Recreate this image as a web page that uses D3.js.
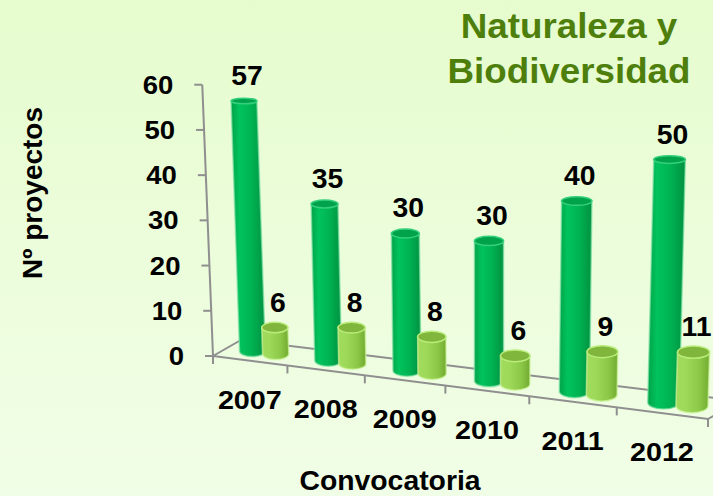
<!DOCTYPE html>
<html>
<head>
<meta charset="utf-8">
<script src="https://cdn.jsdelivr.net/npm/d3@7"></script>
<style>
  body { margin: 0; }
  svg { display: block; }
  text { font-family: "Liberation Sans", Arial, sans-serif; font-weight: bold; }
</style>
</head>
<body>
<div id="chart"></div>
<script>
// data
var years = ["2007", "2008", "2009", "2010", "2011", "2012"];
var serie1 = [57, 35, 30, 30, 40, 50];   // columnas verde oscuro
var serie2 = [6, 8, 8, 6, 9, 11];        // columnas verde claro
var yTicks = [0, 10, 20, 30, 40, 50, 60];
var titleLines = ["Naturaleza y", "Biodiversidad"];

var width = 713, height = 496;

var svg = d3.select("#chart")
  .append("svg")
    .attr("width", width)
    .attr("height", height);

var defs = svg.append("defs");

// background
var bg = defs.append("linearGradient").attr("id", "bg")
  .attr("x1", 0).attr("y1", 0).attr("x2", 0).attr("y2", 1);
bg.append("stop").attr("offset", "0%").attr("stop-color", "#e6fcce");
bg.append("stop").attr("offset", "100%").attr("stop-color", "#f1fee7");
svg.append("rect").attr("width", width).attr("height", height).attr("fill", "url(#bg)");

// cylinder gradients
function hGrad(id, stops){
  var g = defs.append("linearGradient").attr("id", id)
    .attr("x1", 0).attr("y1", 0).attr("x2", 1).attr("y2", 0);
  stops.forEach(function(s){
    g.append("stop").attr("offset", s[0]).attr("stop-color", s[1]);
  });
}
hGrad("g1", [["0%", "#00a247"], ["25%", "#00c35e"], ["60%", "#00b352"], ["100%", "#009140"]]);
hGrad("g2", [["0%", "#a3dc5c"], ["30%", "#9ed95a"], ["70%", "#8cc847"], ["100%", "#72ab30"]]);

var series = [
  {key: "s1", values: serie1, fill: "url(#g1)", top: "#00a34a", rim: "#35d07c", glow: "#7fe0a5"},
  {key: "s2", values: serie2, fill: "url(#g2)", top: "#80b63c", rim: "#b9ec7a", glow: "#cdf39c"}
];

// perspective of the 3D floor
var persp = 0.115;
var F0 = [213, 356], F1 = [708, 419];   // front edge of the floor
var B0 = [241, 340], B1 = [740, 401];   // back edge of the floor
var vanishX = 490, vanishDist = 7000;

var x = d3.scaleBand()
  .domain(years)
  .range([0, 1]);

var xSub = d3.scaleBand()
  .domain(series.map(function(s){ return s.key; }))
  .range([0, x.bandwidth()])
  .paddingOuter(0.61);

var y = d3.scaleLinear()
  .domain([0, 60])
  .range([0, 60 * 4.36]);

function project(t, d, v){
  var u = t * (1 - persp) / (1 - persp * t);
  var fx = F0[0] + (F1[0] - F0[0]) * u, fy = F0[1] + (F1[1] - F0[1]) * u;
  var bx = B0[0] + (B1[0] - B0[0]) * u, by = B0[1] + (B1[1] - B0[1]) * u;
  var px = fx + (bx - fx) * d, py = fy + (by - fy) * d;
  var w = (1 / (1 - persp * t)) * (1 + 0.074 * (0.5 - d));
  var h = y(v) * w;
  return [px + (px - vanishX) * h / vanishDist, py - h];
}

function label(g, px, py, txt, size, sx, anchor, color){
  return g.append("text")
    .attr("transform", "translate(" + px + "," + py + ") scale(" + sx + ",1)")
    .attr("text-anchor", anchor)
    .attr("font-size", size)
    .attr("fill", color || "#000")
    .text(txt);
}

var axisColor = "#8f8f8f";
var frame = svg.append("g")
  .attr("stroke", axisColor).attr("stroke-width", 2).attr("fill", "none");

// floor edges
var line = d3.line();
frame.append("path").attr("d", line([project(0, 0, 0), project(1, 0, 0), project(1, 1, 0), project(0, 1, 0), project(0, 0, 0)]));

// category ticks hanging from the front edge
d3.range(0, years.length + 1).forEach(function(i){
  var p = project(i / years.length, 0, 0);
  frame.append("line")
    .attr("x1", p[0]).attr("y1", p[1])
    .attr("x2", p[0]).attr("y2", p[1] + 8);
});

// value axis at the front-left corner
frame.append("path").attr("d", line([project(0, 0, 0), project(0, 0, 60)]));

var axisG = svg.append("g");
yTicks.forEach(function(v){
  var p = project(0, 0, v);
  axisG.append("line")
    .attr("x1", p[0] - 8).attr("y1", p[1])
    .attr("x2", p[0]).attr("y2", p[1])
    .attr("stroke", axisColor).attr("stroke-width", 2);
  label(axisG, p[0] - 29, p[1] + 9, v, 25, 1.1, "end");
});

// cylinders
var bars = svg.append("g");
years.forEach(function(yr, i){
  series.forEach(function(s){
    var v = s.values[i];
    var t0 = x(yr) + xSub(s.key);
    var tc = t0 + xSub.bandwidth() / 2;
    var left = project(t0, 0.5, 0), right = project(t0 + xSub.bandwidth(), 0.5, 0);
    var rx = (right[0] - left[0]) / 2 * 1.12;
    var b = project(tc, 0.5, 0);
    var tp = project(tc, 0.5, v);
    var ryB = rx * 0.42, ryT = rx * (0.42 - 0.0035 * v);

    var body = "M" + (b[0] - rx) + "," + b[1] +
      "L" + (tp[0] - rx) + "," + tp[1] +
      "L" + (tp[0] + rx) + "," + tp[1] +
      "L" + (b[0] + rx) + "," + b[1] +
      "A" + rx + "," + ryB + " 0 0 1 " + (b[0] - rx) + "," + b[1] + "Z";

    bars.append("path")
      .attr("d", body)
      .attr("fill", s.fill)
      .attr("stroke", s.glow)
      .attr("stroke-opacity", 0.7)
      .attr("stroke-width", 1.5);

    bars.append("ellipse")
      .attr("cx", tp[0]).attr("cy", tp[1])
      .attr("rx", rx).attr("ry", ryT)
      .attr("fill", s.top)
      .attr("stroke", s.rim)
      .attr("stroke-width", 1.5);

    label(bars, tp[0] + 3, tp[1] - 16, v, 27, 1.05, "middle");
  });

  var f = project(x(yr) + x.bandwidth() / 2, 0, 0);
  label(svg, f[0], f[1] + 48, yr, 25, 1.15, "middle");
});

// titles
label(svg, 569, 38, titleLines[0], 35, 1.05, "middle", "#4e7f0c");
label(svg, 569, 83, titleLines[1], 35, 1.05, "middle", "#4e7f0c");

svg.append("text")
  .attr("transform", "translate(42,193) rotate(-90)")
  .attr("text-anchor", "middle")
  .attr("font-size", 28)
  .text("Nº proyectos");

label(svg, 390, 490, "Convocatoria", 27, 1.05, "middle");
</script>
</body>
</html>
